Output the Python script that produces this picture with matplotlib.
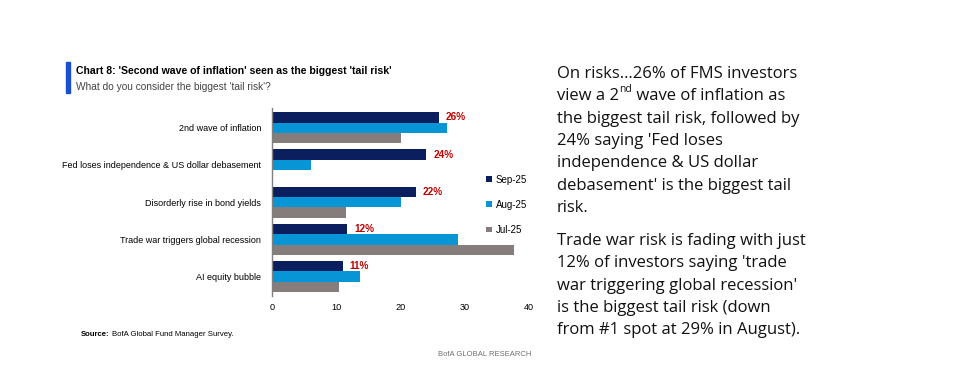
import numpy as np
import matplotlib.pyplot as plt
from matplotlib.patches import Rectangle

categories = ['2nd wave of inflation', 'Fed loses independence & US dollar debasement',
              'Disorderly rise in bond yields', 'Trade war triggers global recession',
              'AI equity bubble']
sep25 = [26, 24, 22.4, 11.7, 11]
aug25 = [27.2, 6, 20, 29, 13.7]
jul25 = [20, 0, 11.5, 37.6, 10.4]
sep_labels = ['26%', '24%', '22%', '12%', '11%']
series_names = ['Sep-25', 'Aug-25', 'Jul-25']
colors = ['#0b1f5e', '#0795d6', '#857c7c']

plt.rcParams['font.family'] = ['Liberation Sans', 'DejaVu Sans']
narrow = ['Liberation Sans Narrow', 'Liberation Sans']

fig = plt.figure(figsize=(9.75, 3.92), dpi=100)
ax = fig.add_axes([272 / 975, 1 - 296 / 392, (529 - 272) / 975, (296 - 108) / 392])

y = np.arange(len(categories))
h = 0.28
for i, (vals, name, c) in enumerate(zip([sep25, aug25, jul25], series_names, colors)):
    ax.barh(y + (i - 1) * h, vals, height=h, color=c, label=name)

for yi, v, lab in zip(y, sep25, sep_labels):
    ax.text(v + 1.1, yi - h, lab, color='#c00000', fontsize=7.2, fontweight='bold',
            va='center', ha='left')

ax.set_xlim(0, 40)
ax.set_ylim(4.52, -0.53)
ax.set_xticks([0, 10, 20, 30, 40])
ax.set_yticks(y)
ax.set_yticklabels(categories, fontsize=6.5)
ax.tick_params(axis='x', labelsize=6.6, length=0, pad=5)
ax.tick_params(axis='y', length=0, pad=8)
for s in ['top', 'right', 'bottom']:
    ax.spines[s].set_visible(False)
ax.spines['left'].set_color('#808080')
ax.spines['left'].set_linewidth(1)

ax.legend(loc='center left', bbox_to_anchor=(0.8, 0.485), frameon=False, fontsize=7,
          handlelength=0.55, handleheight=0.55, labelspacing=1.55, handletextpad=0.4)

# title block
fig.patches.append(Rectangle((66 / 975, 1 - 93 / 392), 4 / 975, 31 / 392,
                             transform=fig.transFigure, color='#1a4fd0'))
fig.text(76 / 975, 1 - 71 / 392, "Chart 8: 'Second wave of inflation' seen as the biggest 'tail risk'",
         fontsize=7.6, fontweight='bold', va='center', family=narrow)
fig.text(76 / 975, 1 - 87 / 392, "What do you consider the biggest 'tail risk'?",
         fontsize=7.3, color='#444444', va='center', family=narrow)

src = fig.text(81 / 975, 1 - 336 / 392, 'Source:', fontsize=5.6, fontweight='bold',
               va='baseline', family=narrow)
fig.add_artist(plt.Annotation('BofA Global Fund Manager Survey.', xy=(1, 0), xycoords=src,
                              xytext=(1.5, 0), textcoords='offset points',
                              va='bottom', fontsize=5.6, family=narrow))
fig.text(531 / 975, 1 - 355 / 392, 'BofA GLOBAL RESEARCH', fontsize=5.5, color='#707070',
         ha='right', va='center', family=narrow)

# right commentary
lines = ["On risks\u202626% of FMS investors",
         None,
         "the biggest tail risk, followed by",
         "24% saying 'Fed loses",
         "independence & US dollar",
         "debasement' is the biggest tail",
         "risk."]
lines2 = ["Trade war risk is fading with just",
          "12% of investors saying 'trade",
          "war triggering global recession'",
          "is the biggest tail risk (down",
          "from #1 spot at 29% in August)."]
tfont = dict(fontsize=12.0, family=['Open Sans', 'DejaVu Sans'], color='#111111', va='center')
x0 = 557 / 975
step = 22.3
for i, ln in enumerate(lines):
    yy = 1 - (74 + i * step) / 392
    if ln is None:
        t1 = fig.text(x0, yy, 'view a 2', **tfont)
        sup = plt.Annotation('nd', xy=(1, 0.6), xycoords=t1, xytext=(0.3, 0),
                             textcoords='offset points', fontsize=7.5,
                             family=['Open Sans', 'DejaVu Sans'], color='#111111', va='bottom')
        fig.add_artist(sup)
        fig.add_artist(plt.Annotation(' wave of inflation as', xy=(1, 0.5), xycoords=(sup, t1),
                                      **tfont))
        continue
    fig.text(x0, yy, ln, **tfont)
for i, ln in enumerate(lines2):
    yy = 1 - (241 + i * step) / 392
    fig.text(x0, yy, ln, **tfont)

fig.savefig('out.png', dpi=100)
